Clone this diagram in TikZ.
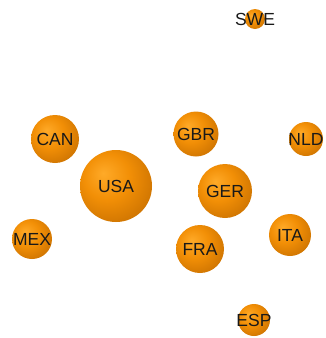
\documentclass[tikz,border=0pt]{standalone}
\usepackage{fontspec}
\setmainfont{Liberation Sans}
\usepackage{xcolor}

% colours of the spheres
\definecolor{sphlight}{RGB}{255,170,40}
\definecolor{sphmid}{RGB}{242,143,6}
\definecolor{sphdark}{RGB}{195,108,0}
\definecolor{sphrim}{RGB}{115,62,0}
\pgfdeclareradialshading{sphere}{\pgfpoint{-9bp}{9bp}}{%
  color(0bp)=(sphlight); color(16bp)=(sphmid); color(37bp)=(sphdark);
  color(50bp)=(sphrim); color(60bp)=(sphrim)}

\begin{document}
\begin{tikzpicture}[x=1pt,y=-1pt]
%%%%%%%%%%%%%%%%%%%%%%%%%%%%%%%%%%%%%%%%%%%%%%%%%%%%%%%%%%%%%%
%BACKGROUND
\useasboundingbox (0,0) rectangle (326,338);

%%%%%%%%%%%%%%%%%%%%%%%%%%%%%%%%%%%%%%%%%%%%%%%%%%%%%%%%%%%%%%
%spheres
\tikzstyle{ball}=[circle,shading=sphere,inner sep=0pt]
\tikzstyle{every label}=[font=\fontsize{17.5}{17.5}\selectfont,text=black!90,inner sep=0pt]

%north america
\node[ball,minimum size=72pt,label=center:USA] (usa) at (116,186) {};
\node[ball,minimum size=48pt,label=center:CAN] (can) at (55,139) {};
\node[ball,minimum size=40pt,label=center:MEX] (mex) at (32,239) {};

%europe
\node[ball,minimum size=45pt,label=center:GBR] (gbr) at (196,134) {};
\node[ball,minimum size=54pt,label=center:GER] (ger) at (225,191) {};
\node[ball,minimum size=48pt,label=center:FRA] (fra) at (200,249) {};
\node[ball,minimum size=42pt,label=center:ITA] (ita) at (290,235) {};
\node[ball,minimum size=34pt,label=center:NLD] (nld) at (306,139) {};
\node[ball,minimum size=32pt,label=center:ESP] (esp) at (254,320) {};
\node[ball,minimum size=20pt,label=center:SWE] (swe) at (255,19) {};
\end{tikzpicture}
\end{document}
